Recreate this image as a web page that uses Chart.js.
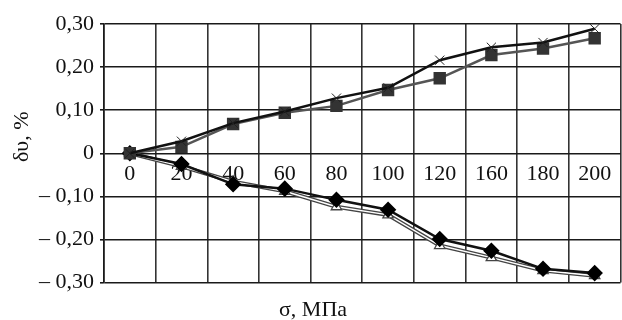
<!DOCTYPE html>
<html lang="ru">
<head>
  <meta charset="UTF-8" />
  <title>δυ — σ</title>
  <script src="https://cdn.jsdelivr.net/npm/chart.js"></script>
  <style>
    html, body {
      margin: 0;
      padding: 0;
      overflow: hidden;
      background: #fff;
    }

    .wrap {
      width: 630px;
      height: 323px;
    }
  </style>
</head>
<body>

  <div class="wrap"><canvas id="chart"></canvas></div>

  <script>
    // stress, MPa (140 is not in the series)
    const sigma = ['0', '20', '40', '60', '80', '100', '120', '160', '180', '200'];

    // upper pair
    const crossVals  = [0, 0.028, 0.070, 0.097, 0.128, 0.152, 0.216, 0.246, 0.257, 0.289];
    const squareVals = [0, 0.015, 0.068, 0.094, 0.110, 0.147, 0.174, 0.228, 0.243, 0.267];

    // lower pair
    const diamondVals  = [0, -0.025, -0.072, -0.082, -0.108, -0.131, -0.199, -0.226, -0.268, -0.278];
    const triangleVals = [0, -0.030, -0.066, -0.088, -0.124, -0.143, -0.214, -0.242, -0.272, -0.284];

    const yTickValues = [0.30, 0.20, 0.10, 0, -0.10, -0.20, -0.30];
    const yTickLabels = ['0,30', '0,20', '0,10', '0', '– 0,10', '– 0,20', '– 0,30'];

    const FONT = 'Liberation Serif, Times New Roman, serif';
    const pad = '\u00a0'.repeat(6);

    const ctx = document.getElementById('chart').getContext('2d');

    new Chart(ctx, {
      type: 'line',
      data: {
        labels: sigma,
        datasets: [
          {
            data: crossVals,
            borderColor: '#111',
            borderWidth: 2.5,
            pointStyle: 'crossRot',
            pointRadius: 6.5,
            pointBorderColor: '#222',
            pointBorderWidth: 1,
            pointBackgroundColor: '#222'
          },
          {
            data: squareVals,
            borderColor: '#555',
            borderWidth: 2.5,
            pointStyle: 'rect',
            pointRadius: 7,
            pointBorderColor: '#333',
            pointBackgroundColor: '#333'
          },
          {
            data: diamondVals,
            borderColor: '#111',
            borderWidth: 2.5,
            pointStyle: 'rectRot',
            pointRadius: 6.5,
            pointBorderColor: '#000',
            pointBackgroundColor: '#000'
          },
          {
            data: triangleVals,
            borderColor: '#fff',
            borderWidth: 1.4,
            pointStyle: 'triangle',
            pointRadius: 6,
            pointBorderColor: '#444',
            pointBorderWidth: 1.3,
            pointBackgroundColor: '#fff'
          },
          {
            // dark casing under the white line
            data: triangleVals,
            borderColor: '#444',
            borderWidth: 4,
            pointRadius: 0
          }
        ]
      },
      options: {
        responsive: true,
        maintainAspectRatio: false,
        animation: false,
        layout: {
          padding: { top: 24, right: 4, left: 0, bottom: 0 }
        },
        plugins: {
          legend: { display: false },
          tooltip: { enabled: false },
          title: {
            display: true,
            position: 'bottom',
            text: 'σ, МПа',
            color: '#111',
            font: { family: FONT, size: 22, weight: 'normal' },
            padding: { top: 14, bottom: 0 }
          }
        },
        scales: {
          x: {
            type: 'category',
            position: { y: 0 },
            offset: true,
            grid: {
              offset: true,
              color: '#333',
              lineWidth: 1.6,
              drawTicks: false
            },
            border: { display: false },
            ticks: {
              color: '#111',
              padding: 8,
              maxRotation: 0,
              autoSkip: false,
              font: { family: FONT, size: 22 }
            }
          },
          y: {
            min: -0.30,
            max: 0.30,
            afterFit: (scale) => { scale.width = 104; },
            grid: {
              color: '#1a1a1a',
              lineWidth: 1.6,
              tickLength: 4
            },
            border: { color: '#1a1a1a', width: 1.6 },
            ticks: {
              stepSize: 0.05,
              color: '#111',
              padding: 6,
              font: { family: FONT, size: 22 },
              callback: (v) => {
                const i = yTickValues.findIndex(t => Math.abs(t - v) < 1e-6);
                return i < 0 ? '' : yTickLabels[i];
              }
            },
            title: {
              display: true,
              text: pad + 'δυ, %',
              color: '#111',
              padding: { top: 9, bottom: 0 },
              font: { family: FONT, size: 22 }
            }
          }
        }
      }
    });
  </script>

</body>
</html>
